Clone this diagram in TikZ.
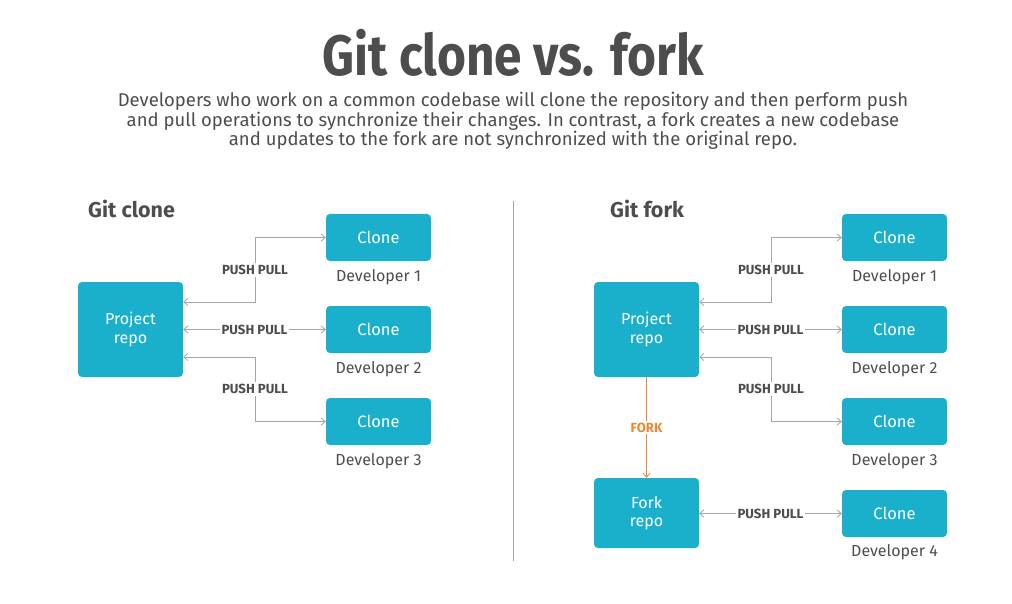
\documentclass[tikz,border=0pt]{standalone}
\usepackage{fontspec}
\setmainfont{Fira Sans}
\newfontfamily\titlefont[FakeStretch=0.87]{Fira Sans}
\newfontfamily\bodyfont{Fira Sans}
\usetikzlibrary{arrows.meta, positioning, calc}

\definecolor{repoteal}{RGB}{26,176,204}
\definecolor{inkgray}{RGB}{77,77,77}
\definecolor{linegray}{RGB}{165,165,165}
\definecolor{forkorange}{RGB}{232,137,48}

\begin{document}
\begin{tikzpicture}[x=1pt, y=-1pt,
            repo/.style={fill=repoteal, rounded corners=4pt, minimum width=105pt, minimum height=95pt, text=white, align=center, font=\fontsize{16}{18.5}\selectfont},
            clone/.style={fill=repoteal, rounded corners=4pt, minimum width=105pt, minimum height=47pt, text=white, font=\fontsize{16.5}{19}\selectfont},
            dev/.style={text=inkgray, font=\fontsize{16}{18}\selectfont, inner sep=0pt},
            heading/.style={text=inkgray, font=\fontsize{21.5}{25}\selectfont\bfseries, anchor=base west, inner sep=0pt},
            pp/.style={fill=white, text=inkgray, font=\fontsize{13.2}{15}\selectfont\bfseries, inner sep=2pt},
            sync/.style={{Straight Barb[length=4pt,width=7pt]}-{Straight Barb[length=4pt,width=7pt]}, linegray, line width=0.8pt},
            forked/.style={-{Straight Barb[length=4pt,width=7pt]}, forkorange, line width=0.8pt}]

            % Frame of the page
            \useasboundingbox (0,0) rectangle (1012,604);

            % Title and explanation
            \node[anchor=base, text=inkgray, font=\titlefont\bfseries\fontsize{57}{60}\selectfont] (title) at (513,76) {Git clone vs. fork};
            \node[anchor=center, align=center, text=inkgray, font=\bodyfont\fontsize{18.5}{19.5}\selectfont] (intro) at (513,121) {Developers who work on a common codebase will clone the repository and then perform push\\and pull operations to synchronize their changes. In contrast, a fork creates a new codebase\\and updates to the fork are not synchronized with the original repo.};

            % Divider between the two halves
            \draw[linegray, line width=0.8pt] (513,201) -- (513,561);

            % Git clone (left half)
            \node[heading] (hclone) at (88,218) {Git clone};
            \node[repo] (proj) at (130.5,329.5) {Project\\repo};
            \node[clone] (cl1) at (378.5,237.5) {Clone};
            \node[clone] (cl2) at (378.5,329.5) {Clone};
            \node[clone] (cl3) at (378.5,421.5) {Clone};
            \node[dev, below=8pt of cl1] (d1) {Developer 1};
            \node[dev, below=8pt of cl2] (d2) {Developer 2};
            \node[dev, below=8pt of cl3] (d3) {Developer 3};
            \coordinate (mid) at (255,0);

            \draw[sync] ([shift={(0,-27.5)}]proj.east) -| (mid |- cl1.west) node[pp, pos=0.75] {PUSH PULL} -- (cl1.west);
            \draw[sync] (proj.east) -- (cl2.west) node[pp, midway] {PUSH PULL};
            \draw[sync] ([shift={(0,27.5)}]proj.east) -| (mid |- cl3.west) node[pp, pos=0.75] {PUSH PULL} -- (cl3.west);

            % Git fork (right half)
            \node[heading] (hfork) at (610,218) {Git fork};
            \node[repo] (fproj) at (646.5,329.5) {Project\\repo};
            \node[repo, minimum height=70pt] (frepo) at (646.5,513) {Fork\\repo};
            \node[clone] (fc1) at (894.5,237.5) {Clone};
            \node[clone] (fc2) at (894.5,329.5) {Clone};
            \node[clone] (fc3) at (894.5,421.5) {Clone};
            \node[clone] (fc4) at (894.5,513.5) {Clone};
            \node[dev, below=8pt of fc1] (fd1) {Developer 1};
            \node[dev, below=8pt of fc2] (fd2) {Developer 2};
            \node[dev, below=8pt of fc3] (fd3) {Developer 3};
            \node[dev, below=7pt of fc4] (fd4) {Developer 4};
            \coordinate (fmid) at (771,0);

            \draw[sync] ([shift={(0,-27.5)}]fproj.east) -| (fmid |- fc1.west) node[pp, pos=0.75] {PUSH PULL} -- (fc1.west);
            \draw[sync] (fproj.east) -- (fc2.west) node[pp, midway] {PUSH PULL};
            \draw[sync] ([shift={(0,27.5)}]fproj.east) -| (fmid |- fc3.west) node[pp, pos=0.75] {PUSH PULL} -- (fc3.west);
            \draw[sync] (frepo.east |- fc4.west) -- (fc4.west) node[pp, midway] {PUSH PULL};

            % The fork itself
            \draw[forked] (fproj.south) -- (frepo.north) node[pp, midway, text=forkorange] {FORK};
        \end{tikzpicture}
\end{document}
